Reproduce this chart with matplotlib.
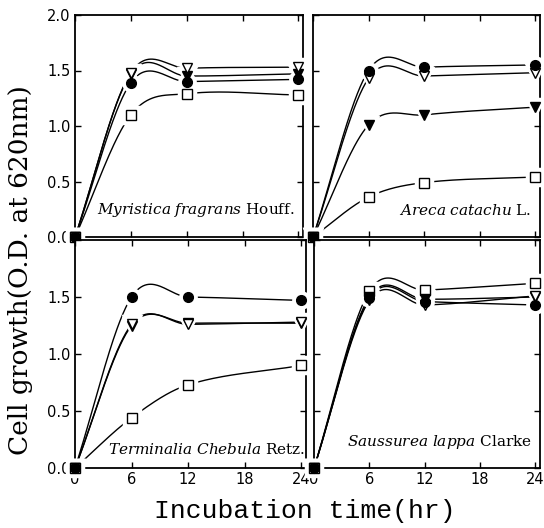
import numpy as np
import matplotlib
matplotlib.use("Agg")
import matplotlib.pyplot as plt

# ---- data ----
time = [0, 6, 12, 24]
panels = ["Myristica fragrans", "Areca catachu", "Terminalia Chebula", "Saussurea lappa"]
authors = ["Houff.", "L.", "Retz.", "Clarke"]

# series: open square, filled down-triangle, open down-triangle, filled circle
myristica_sq = [0, 1.10, 1.29, 1.28]
myristica_ftri = [0, 1.47, 1.45, 1.47]
myristica_otri = [0, 1.48, 1.52, 1.53]
myristica_circ = [0, 1.39, 1.40, 1.42]

areca_sq = [0, 0.36, 0.49, 0.54]
areca_ftri = [0, 1.01, 1.10, 1.17]
areca_otri = [0, 1.43, 1.45, 1.48]
areca_circ = [0, 1.50, 1.53, 1.55]

terminalia_sq = [0, 0.44, 0.73, 0.90]
terminalia_ftri = [0, 1.25, 1.27, 1.27]
terminalia_otri = [0, 1.26, 1.26, 1.28]
terminalia_circ = [0, 1.50, 1.50, 1.47]

saussurea_sq = [0, 1.55, 1.56, 1.62]
saussurea_ftri = [0, 1.50, 1.48, 1.50]
saussurea_otri = [0, 1.47, 1.43, 1.51]
saussurea_circ = [0, 1.49, 1.46, 1.43]

data = [
    (myristica_sq, myristica_ftri, myristica_otri, myristica_circ),
    (areca_sq, areca_ftri, areca_otri, areca_circ),
    (terminalia_sq, terminalia_ftri, terminalia_otri, terminalia_circ),
    (saussurea_sq, saussurea_ftri, saussurea_otri, saussurea_circ),
]
styles = [("s", "white"), ("v", "black"), ("v", "white"), ("o", "black")]
text_pos = [(23.6, 0.24), (23.6, 0.24), (24.4, 0.16), (23.6, 0.23)]


def smooth_curve(x, y, n=60):
    """Cubic Hermite curve with Catmull-Rom tangents (drawing only)."""
    x = np.asarray(x, float); y = np.asarray(y, float)
    m = np.zeros_like(y)
    m[0] = (y[1] - y[0]) / (x[1] - x[0])
    m[-1] = (y[-1] - y[-2]) / (x[-1] - x[-2])
    for i in range(1, len(x) - 1):
        m[i] = (y[i + 1] - y[i - 1]) / (x[i + 1] - x[i - 1])
    xs_all, ys_all = [], []
    for i in range(len(x) - 1):
        h = x[i + 1] - x[i]
        s = np.linspace(0, 1, n)
        h00 = 2 * s**3 - 3 * s**2 + 1
        h10 = s**3 - 2 * s**2 + s
        h01 = -2 * s**3 + 3 * s**2
        h11 = s**3 - s**2
        xs_all.append(x[i] + s * h)
        ys_all.append(h00 * y[i] + h10 * h * m[i] + h01 * y[i + 1] + h11 * h * m[i + 1])
    return np.concatenate(xs_all), np.concatenate(ys_all)


plt.rcParams['mathtext.fontset'] = 'dejavuserif'
fig = plt.figure(figsize=(5.44, 5.28), dpi=100)
W, H = 544, 528
boxes = [(75, 15, 303, 237), (313, 15, 540, 237), (75, 240, 306, 468), (314, 240, 540, 468)]

for k, (x0, y0, x1, y1) in enumerate(boxes):
    ax = fig.add_axes([x0 / W, 1 - y1 / H, (x1 - x0) / W, (y1 - y0) / H])
    for series, (mk, fc) in zip(data[k], styles):
        xs, ys = smooth_curve(time, series)
        ax.plot(xs, ys, color="black", lw=1.0, zorder=2)
        ax.plot(time, series, ls="none", marker=mk, ms=11, mfc="white", mec="white",
                mew=2.5, zorder=3, clip_on=False)
    for series, (mk, fc) in zip(data[k], styles):
        ax.plot(time, series, ls="none", marker=mk, ms=7, mfc=fc, mec="black",
                mew=1.0, zorder=4, clip_on=False)
    ax.set_xlim(0, 24.5)
    ax.set_ylim(0, 2.0)
    ax.set_xticks([0, 6, 12, 18, 24])
    ax.set_yticks([0, 0.5, 1.0, 1.5, 2.0])
    ax.tick_params(direction="in", top=True, right=True, length=4, width=1,
                   labelsize=10.5, pad=3)
    for s in ax.spines.values():
        s.set_linewidth(1.3)
    if k < 2:
        ax.set_xticklabels([])
    if k % 2 == 1:
        ax.set_yticklabels([])
    else:
        if k == 2:
            ax.set_yticklabels(["0.0", "0.5", "1.0", "1.5", ""])
        else:
            ax.set_yticklabels(["0.0", "0.5", "1.0", "1.5", "2.0"])
    name = panels[k].replace(" ", r"\ ")
    tx, ty = text_pos[k]
    ax.text(tx, ty, r"$\it{" + name + "}$ " + authors[k], ha="right", va="center",
            fontsize=11, family="DejaVu Serif", zorder=5)

fig.text(305 / W, 1 - 511 / H, "Incubation time(hr)", ha="center", va="center",
         fontsize=19, family="Liberation Mono")
fig.text(21 / W, 1 - 270 / H, "Cell growth(O.D. at 620nm)", ha="center", va="center",
         rotation=90, fontsize=19, family="DejaVu Serif")

fig.savefig("out.png", dpi=100)
